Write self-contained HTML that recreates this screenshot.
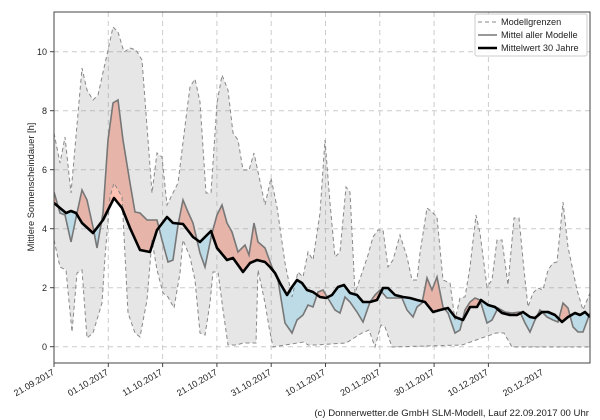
<!DOCTYPE html>
<html><head><meta charset="utf-8"><style>
html,body{margin:0;padding:0;background:#fff;}
svg{display:block;font-family:"Liberation Sans","DejaVu Sans",sans-serif;}
</style></head><body>
<svg width="600" height="420" viewBox="0 0 600 420" xmlns="http://www.w3.org/2000/svg">
<defs>
<clipPath id="above"><polygon points="54,0 54,203 60,208 66,213 71,211 76,213 82,223 93,233 103,220 114,198 122,208 130,228 140,250 150,252 157,230 167,217 173,223 183,224 193,237 200,242 207,235 211,231 217,248 227,260 233,258 243,272 250,263 257,260 265,262 270,267 275,273 280,283 287,295 292,287 297,280 302,283 307,290 313,292 320,297 326,298 332,295 338,287 344,285 350,293 357,295 363,302 370,302 377,300 383,288 388,288 395,295 403,297 410,298 417,300 425,302 433,312 440,310 448,308 455,317 463,320 470,307 477,307 481,300 488,305 495,307 502,313 510,315 517,315 523,312 530,317 535,318 542,312 548,312 555,315 562,322 568,317 575,313 580,315 585,312 590,317 590,0"/></clipPath>
<clipPath id="below"><polygon points="54,420 54,203 60,208 66,213 71,211 76,213 82,223 93,233 103,220 114,198 122,208 130,228 140,250 150,252 157,230 167,217 173,223 183,224 193,237 200,242 207,235 211,231 217,248 227,260 233,258 243,272 250,263 257,260 265,262 270,267 275,273 280,283 287,295 292,287 297,280 302,283 307,290 313,292 320,297 326,298 332,295 338,287 344,285 350,293 357,295 363,302 370,302 377,300 383,288 388,288 395,295 403,297 410,298 417,300 425,302 433,312 440,310 448,308 455,317 463,320 470,307 477,307 481,300 488,305 495,307 502,313 510,315 517,315 523,312 530,317 535,318 542,312 548,312 555,315 562,322 568,317 575,313 580,315 585,312 590,317 590,420"/></clipPath>
<clipPath id="plot"><rect x="54" y="12" width="536" height="351"/></clipPath>
</defs>

<g stroke="#cccccc" stroke-width="1" stroke-dasharray="5,4" fill="none">
<line x1="54" y1="346.7" x2="590" y2="346.7"/>
<line x1="54" y1="287.7" x2="590" y2="287.7"/>
<line x1="54" y1="228.7" x2="590" y2="228.7"/>
<line x1="54" y1="169.7" x2="590" y2="169.7"/>
<line x1="54" y1="110.7" x2="590" y2="110.7"/>
<line x1="54" y1="51.7" x2="590" y2="51.7"/>
<line x1="108.3" y1="12" x2="108.3" y2="363"/>
<line x1="162.6" y1="12" x2="162.6" y2="363"/>
<line x1="216.9" y1="12" x2="216.9" y2="363"/>
<line x1="271.2" y1="12" x2="271.2" y2="363"/>
<line x1="325.5" y1="12" x2="325.5" y2="363"/>
<line x1="379.8" y1="12" x2="379.8" y2="363"/>
<line x1="434.1" y1="12" x2="434.1" y2="363"/>
<line x1="488.4" y1="12" x2="488.4" y2="363"/>
</g>

<g clip-path="url(#plot)">
<polygon id="diff" fill="#ffc1b2" clip-path="url(#above)" points="54,192 60,213 65,215 71,242 77,213 82,190 87,200 93,227 97,248 103,213 108,140 113,103 118,100 123,140 130,183 135,212 140,213 147,220 157,220 162,240 168,262 173,260 178,225 183,200 188,212 193,223 200,253 205,267 212,233 217,215 222,205 227,223 232,232 238,252 245,245 249,255 254,223 258,242 265,248 272,267 278,280 285,323 292,333 297,320 303,315 308,305 313,307 318,292 323,290 329,300 335,310 340,313 345,297 350,302 357,312 363,322 370,302 375,295 380,290 387,298 395,298 402,298 407,310 413,317 417,307 422,303 427,278 432,290 437,277 443,307 448,313 455,333 460,330 465,310 470,302 475,298 480,300 487,323 492,320 498,308 505,312 512,313 520,312 525,323 530,332 535,320 540,310 547,317 553,320 558,322 563,303 568,308 573,327 578,332 583,332 590,313 590,317 585,312 580,315 575,313 568,317 562,322 555,315 548,312 542,312 535,318 530,317 523,312 517,315 510,315 502,313 495,307 488,305 481,300 477,307 470,307 463,320 455,317 448,308 440,310 433,312 425,302 417,300 410,298 403,297 395,295 388,288 383,288 377,300 370,302 363,302 357,295 350,293 344,285 338,287 332,295 326,298 320,297 313,292 307,290 302,283 297,280 292,287 287,295 280,283 275,273 270,267 265,262 257,260 250,263 243,272 233,258 227,260 217,248 211,231 207,235 200,242 193,237 183,224 173,223 167,217 157,230 150,252 140,250 130,228 122,208 114,198 103,220 93,233 82,223 76,213 71,211 66,213 60,208 54,203"/>
<polygon fill="#cbf2ff" clip-path="url(#below)" points="54,192 60,213 65,215 71,242 77,213 82,190 87,200 93,227 97,248 103,213 108,140 113,103 118,100 123,140 130,183 135,212 140,213 147,220 157,220 162,240 168,262 173,260 178,225 183,200 188,212 193,223 200,253 205,267 212,233 217,215 222,205 227,223 232,232 238,252 245,245 249,255 254,223 258,242 265,248 272,267 278,280 285,323 292,333 297,320 303,315 308,305 313,307 318,292 323,290 329,300 335,310 340,313 345,297 350,302 357,312 363,322 370,302 375,295 380,290 387,298 395,298 402,298 407,310 413,317 417,307 422,303 427,278 432,290 437,277 443,307 448,313 455,333 460,330 465,310 470,302 475,298 480,300 487,323 492,320 498,308 505,312 512,313 520,312 525,323 530,332 535,320 540,310 547,317 553,320 558,322 563,303 568,308 573,327 578,332 583,332 590,313 590,317 585,312 580,315 575,313 568,317 562,322 555,315 548,312 542,312 535,318 530,317 523,312 517,315 510,315 502,313 495,307 488,305 481,300 477,307 470,307 463,320 455,317 448,308 440,310 433,312 425,302 417,300 410,298 403,297 395,295 388,288 383,288 377,300 370,302 363,302 357,295 350,293 344,285 338,287 332,295 326,298 320,297 313,292 307,290 302,283 297,280 292,287 287,295 280,283 275,273 270,267 265,262 257,260 250,263 243,272 233,258 227,260 217,248 211,231 207,235 200,242 193,237 183,224 173,223 167,217 157,230 150,252 140,250 130,228 122,208 114,198 103,220 93,233 82,223 76,213 71,211 66,213 60,208 54,203"/>

<polygon fill="rgba(128,128,128,0.2)" points="54,133 60,163 65,137 71,193 82,68 87,90 93,100 98,95 108,50 113,27 118,32 124,52 130,48 136,50 142,60 152,193 157,153 162,157 167,205 178,183 187,110 190,87 195,79 200,102 206,193 211,193 217,103 222,75 228,90 233,133 238,140 243,170 249,170 254,153 265,205 271,178 277,207 285,263 292,297 298,272 303,277 308,252 313,260 320,213 325,140 330,203 335,257 340,252 346,187 350,192 355,293 362,273 368,255 373,237 378,230 383,230 388,267 393,260 400,235 407,257 412,280 417,280 420,253 427,208 432,212 437,217 443,280 450,283 455,320 460,298 465,297 470,267 476,215 480,233 487,287 492,280 497,240 502,240 508,285 514,218 519,218 524,270 528,307 533,293 538,288 543,290 548,270 553,263 557,262 563,202 568,247 577,290 583,310 590,293 590,347 512,347 504,333 496,333 462,345 392,347 385,327 381,325 375,347 369,330 362,333 354,338 346,343 315,345 308,345 304,342 273,347 269,327 265,303 258,270 256,343 243,343 237,345 228,345 223,310 218,272 213,272 210,303 205,335 200,333 195,280 190,257 183,240 180,273 174,308 168,297 163,293 157,270 152,240 147,300 140,337 135,333 128,313 122,197 114,183 110,197 105,257 102,303 93,333 87,338 82,270 77,273 72,332 66,270 60,267 54,240"/>
<g fill="none" stroke="#888" stroke-width="1" stroke-dasharray="4,3">
<polyline points="54,133 60,163 65,137 71,193 82,68 87,90 93,100 98,95 108,50 113,27 118,32 124,52 130,48 136,50 142,60 152,193 157,153 162,157 167,205 178,183 187,110 190,87 195,79 200,102 206,193 211,193 217,103 222,75 228,90 233,133 238,140 243,170 249,170 254,153 265,205 271,178 277,207 285,263 292,297 298,272 303,277 308,252 313,260 320,213 325,140 330,203 335,257 340,252 346,187 350,192 355,293 362,273 368,255 373,237 378,230 383,230 388,267 393,260 400,235 407,257 412,280 417,280 420,253 427,208 432,212 437,217 443,280 450,283 455,320 460,298 465,297 470,267 476,215 480,233 487,287 492,280 497,240 502,240 508,285 514,218 519,218 524,270 528,307 533,293 538,288 543,290 548,270 553,263 557,262 563,202 568,247 577,290 583,310 590,293"/>
<polyline points="54,240 60,267 66,270 72,332 77,273 82,270 87,338 93,333 102,303 105,257 110,197 114,183 122,197 128,313 135,333 140,337 147,300 152,240 157,270 163,293 168,297 174,308 180,273 183,240 190,257 195,280 200,333 205,335 210,303 213,272 218,272 223,310 228,345 237,345 243,343 256,343 258,270 265,303 269,327 273,347 304,342 308,345 315,345 346,343 354,338 362,333 369,330 375,347 381,325 385,327 392,347 462,345 496,333 504,333 512,347 590,347"/>
</g>
<polyline fill="none" stroke="#777" stroke-width="1.6" points="54,192 60,213 65,215 71,242 77,213 82,190 87,200 93,227 97,248 103,213 108,140 113,103 118,100 123,140 130,183 135,212 140,213 147,220 157,220 162,240 168,262 173,260 178,225 183,200 188,212 193,223 200,253 205,267 212,233 217,215 222,205 227,223 232,232 238,252 245,245 249,255 254,223 258,242 265,248 272,267 278,280 285,323 292,333 297,320 303,315 308,305 313,307 318,292 323,290 329,300 335,310 340,313 345,297 350,302 357,312 363,322 370,302 375,295 380,290 387,298 395,298 402,298 407,310 413,317 417,307 422,303 427,278 432,290 437,277 443,307 448,313 455,333 460,330 465,310 470,302 475,298 480,300 487,323 492,320 498,308 505,312 512,313 520,312 525,323 530,332 535,320 540,310 547,317 553,320 558,322 563,303 568,308 573,327 578,332 583,332 590,313"/>
<polyline fill="none" stroke="#000" stroke-width="2.6" stroke-linejoin="round" points="54,203 60,208 66,213 71,211 76,213 82,223 93,233 103,220 114,198 122,208 130,228 140,250 150,252 157,230 167,217 173,223 183,224 193,237 200,242 207,235 211,231 217,248 227,260 233,258 243,272 250,263 257,260 265,262 270,267 275,273 280,283 287,295 292,287 297,280 302,283 307,290 313,292 320,297 326,298 332,295 338,287 344,285 350,293 357,295 363,302 370,302 377,300 383,288 388,288 395,295 403,297 410,298 417,300 425,302 433,312 440,310 448,308 455,317 463,320 470,307 477,307 481,300 488,305 495,307 502,313 510,315 517,315 523,312 530,317 535,318 542,312 548,312 555,315 562,322 568,317 575,313 580,315 585,312 590,317"/>
</g>

<rect x="54" y="12" width="536" height="351" fill="none" stroke="#444" stroke-width="1"/>
<g stroke="#444" stroke-width="1">
<line x1="50" y1="346.7" x2="54" y2="346.7"/><line x1="50" y1="287.7" x2="54" y2="287.7"/>
<line x1="50" y1="228.7" x2="54" y2="228.7"/><line x1="50" y1="169.7" x2="54" y2="169.7"/>
<line x1="50" y1="110.7" x2="54" y2="110.7"/><line x1="50" y1="51.7" x2="54" y2="51.7"/>
<line x1="54" y1="363" x2="54" y2="367"/><line x1="108.3" y1="363" x2="108.3" y2="367"/>
<line x1="162.6" y1="363" x2="162.6" y2="367"/><line x1="216.9" y1="363" x2="216.9" y2="367"/>
<line x1="271.2" y1="363" x2="271.2" y2="367"/><line x1="325.5" y1="363" x2="325.5" y2="367"/>
<line x1="379.8" y1="363" x2="379.8" y2="367"/><line x1="434.1" y1="363" x2="434.1" y2="367"/>
<line x1="488.4" y1="363" x2="488.4" y2="367"/>
</g>
<g font-size="9" fill="#222" text-anchor="end">
<text x="47" y="350">0</text><text x="47" y="291">2</text><text x="47" y="232">4</text>
<text x="47" y="173">6</text><text x="47" y="114">8</text><text x="47" y="55">10</text>
</g>
<text transform="translate(34,187) rotate(-90)" font-size="9.3" fill="#222" text-anchor="middle">Mittlere Sonnenscheindauer [h]</text>
<g font-size="9" fill="#222" text-anchor="end">
<text transform="translate(55,374) rotate(-30)">21.09.2017</text>
<text transform="translate(109,374) rotate(-30)">01.10.2017</text>
<text transform="translate(163,374) rotate(-30)">11.10.2017</text>
<text transform="translate(218,374) rotate(-30)">21.10.2017</text>
<text transform="translate(272,374) rotate(-30)">31.10.2017</text>
<text transform="translate(326,374) rotate(-30)">10.11.2017</text>
<text transform="translate(381,374) rotate(-30)">20.11.2017</text>
<text transform="translate(435,374) rotate(-30)">30.11.2017</text>
<text transform="translate(489,374) rotate(-30)">10.12.2017</text>
<text transform="translate(544,374) rotate(-30)">20.12.2017</text>
</g>
<rect x="475" y="14" width="112" height="42" rx="2" fill="#fff" fill-opacity="0.9" stroke="#ccc"/>
<line x1="478" y1="22" x2="497" y2="22" stroke="#888" stroke-dasharray="4,3"/>
<line x1="478" y1="35" x2="497" y2="35" stroke="#777" stroke-width="1.6"/>
<line x1="478" y1="48" x2="497" y2="48" stroke="#000" stroke-width="2.6"/>
<g font-size="9.2" fill="#222">
<text x="501" y="25">Modellgrenzen</text>
<text x="501" y="38">Mittel aller Modelle</text>
<text x="501" y="51">Mittelwert 30 Jahre</text>
</g>
<text x="589" y="416" font-size="9.6" fill="#222" text-anchor="end">(c) Donnerwetter.de GmbH SLM-Modell, Lauf 22.09.2017 00 Uhr</text>
</svg>
</body></html>
